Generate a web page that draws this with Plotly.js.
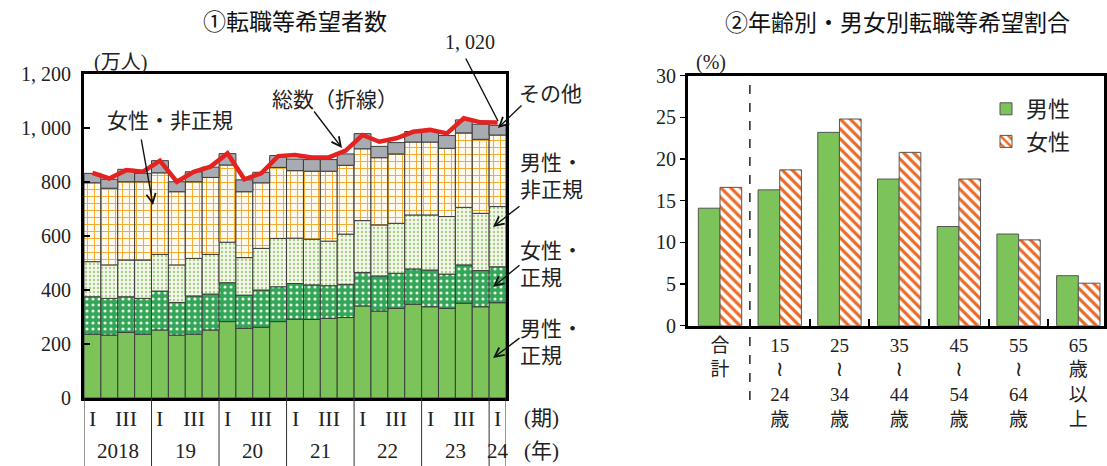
<!DOCTYPE html>
<html><head><meta charset="utf-8">
<script src="https://cdn.plot.ly/plotly-3.0.1.min.js"></script>
<style>html,body{margin:0;padding:0;background:#fff}#c{width:1107px;height:466px}</style>
</head><body><div id="c"></div>
<script>
// ---------- data: chart 1 (万人) ----------
const years = ['2018','19','20','21','22','23','24'];
const quartersPerYear = [4,4,4,4,4,4,1];
const quarterNames = ['I','','III',''];
const maleRegular      = [236,233,243,236,252,233,236,252,283,258,262,283,292,291,295,298,341,322,332,347,338,332,351,338,353];
const femaleRegular    = [139,136,132,133,144,121,142,133,144,123,138,129,132,128,121,123,124,130,130,131,136,127,142,134,133];
const maleNonRegular   = [130,124,136,142,136,139,139,147,150,139,154,179,168,169,165,186,192,189,185,200,204,213,213,212,223];
const femaleNonRegular = [292,284,290,290,302,271,284,285,286,244,243,263,250,252,259,255,266,249,257,270,270,253,276,274,265];
const others           = [35,33,46,31,45,37,37,38,42,44,39,44,43,43,43,42,56,42,42,39,40,47,48,56,36];
const totalLine        = [834,813,844,838,879,801,838,857,906,810,832,896,900,891,891,916,974,949,962,986,993,980,1036,1021,1020];
const lastLabel = '1, 020';
const yTickVals = [0,200,400,600,800,1000,1200];
const yTickText = ['0','200','400','600','800','1, 000','1, 200'];

// ---------- data: chart 2 (%) ----------
const WAVE = '<span style="font-family:DejaVu Sans;font-size:21px">≀</span>';
const ageLabels = ['合<br>計','15<br>'+WAVE+'<br>24<br>歳','25<br>'+WAVE+'<br>34<br>歳','35<br>'+WAVE+'<br>44<br>歳','45<br>'+WAVE+'<br>54<br>歳','55<br>'+WAVE+'<br>64<br>歳','65<br>歳<br>以<br>上'];
const maleRate   = [14.1,16.3,23.2,17.6,11.9,11.0,6.0];
const femaleRate = [16.6,18.7,24.8,20.8,17.6,10.3,5.1];
const rateTicks  = [0,5,10,15,20,25,30];

// ---------- helpers ----------
const W = 1107, H = 466;
const px = x => x / W, py = y => 1 - y / H;
const SERIF = 'Liberation Serif, DejaVu Serif, Noto Sans CJK JP, serif';
const JP = 'Noto Sans CJK JP, sans-serif';

const idx = maleRegular.map((_, i) => i);
const series = [
  {name:'男性・正規', y:maleRegular, marker:{color:'#7cc35a'}},
  {name:'女性・正規', y:femaleRegular, marker:{color:'#33a65a', pattern:{shape:'.', fgcolor:'#e4f3dc', bgcolor:'#33a65a', size:6, solidity:0.22}}},
  {name:'男性・非正規', y:maleNonRegular, marker:{color:'#f2f5e4', pattern:{shape:'.', fgcolor:'#a6cf88', bgcolor:'#f5f7ea', size:4, solidity:0.28}}},
  {name:'女性・非正規', y:femaleNonRegular, marker:{color:'#fff8ea', pattern:{shape:'+', fgcolor:'#f3ad35', bgcolor:'#fffaf0', size:7, solidity:0.28}}},
  {name:'その他', y:others, marker:{color:'#a8abb2'}}
];
const traces = [];
let base = idx.map(() => 0);
series.forEach(s => {
  traces.push({
    type:'bar', x:idx, y:s.y, base:base.slice(), width:1, name:s.name, showlegend:false,
    xaxis:'x', yaxis:'y',
    marker:Object.assign({}, s.marker, {line:{color:'#3c3c3c', width:1}}),
    hoverinfo:'skip'
  });
  base = base.map((b, i) => b + s.y[i]);
});
traces.push({type:'scatter', mode:'lines', x:idx, y:totalLine, xaxis:'x', yaxis:'y',
  line:{color:'#e42320', width:4.5}, showlegend:false, hoverinfo:'skip'});

const cats = ageLabels.map((_, i) => i);
const bw = 0.363;
traces.push({type:'bar', x:cats, y:maleRate, xaxis:'x2', yaxis:'y2', name:'男性',
  offset:-bw, width:bw, legendgroup:'m',
  marker:{color:'#7cc35a', line:{color:'#555', width:1}}});
traces.push({type:'bar', x:cats, y:femaleRate, xaxis:'x2', yaxis:'y2', name:'女性',
  offset:0, width:bw, legendgroup:'f',
  marker:{color:'#ffffff', line:{color:'#555', width:1},
    pattern:{shape:'\\', fgcolor:'#ea6a24', bgcolor:'#ffffff', size:7, solidity:0.45}}});

// ---------- annotations ----------
const ann = [];
const txt = (t, x, y, font, opts) => ann.push(Object.assign({text:t, x:px(x), y:py(y), xref:'paper', yref:'paper',
  showarrow:false, xanchor:'center', yanchor:'middle', font:font}, opts || {}));
txt('①転職等希望者数', 295, 20, {family:JP, size:23, color:'#111'});
txt('②年齢別・男女別転職等希望割合', 897, 21, {family:JP, size:23, color:'#111'});
txt('(万人)', 120, 62, {family:SERIF, size:20, color:'#222'});
txt('(%)', 711, 62, {family:SERIF, size:20, color:'#222'});

// quarter + year labels
let k = 0;
const yearBounds = [-0.5];
years.forEach((yr, j) => {
  const n = quartersPerYear[j];
  for (let q = 0; q < n; q++) {
    if (quarterNames[q]) ann.push({text:quarterNames[q], x:k + q, y:py(418), xref:'x', yref:'paper', showarrow:false,
      xanchor:'center', yanchor:'middle', font:{family:SERIF, size:22, color:'#222'}});
  }
  const mid = n === 1 ? k : k + (n - 1) / 2;
  ann.push({text:yr, x:mid, y:py(451), xref:'x', yref:'paper', showarrow:false,
    xanchor:'center', yanchor:'middle', font:{family:SERIF, size:21, color:'#222'}});
  k += n;
  yearBounds.push(k - 0.5);
});
txt('(期)', 541, 418, {family:SERIF, size:21, color:'#222'});
txt('(年)', 541, 451, {family:SERIF, size:21, color:'#222'});

// series labels
const LF = {family:JP, size:21, color:'#222'};
txt('女性・非正規', 170, 119, LF);
txt('総数（折線）', 335, 98, LF);
txt('その他', 550, 92, LF);
txt('男性・<br>非正規', 518, 175, LF, {xanchor:'left', align:'left'});
txt('女性・<br>正規', 518, 262, LF, {xanchor:'left', align:'left'});
txt('男性・<br>正規', 518, 340, LF, {xanchor:'left', align:'left'});
txt(lastLabel, 470, 42, {family:SERIF, size:20, color:'#222'});

const arrow = (hx, hy, tx, ty, head) => ann.push({text:'', x:px(hx), y:py(hy), xref:'paper', yref:'paper',
  showarrow:true, ax:tx - hx, ay:ty - hy, arrowhead:head === undefined ? 5 : head, arrowsize:1.3, arrowwidth:1.4,
  arrowcolor:'#111', standoff:0, startstandoff:0});
arrow(342, 148, 313, 110);
arrow(153, 205, 141, 138);
arrow(498, 128, 523, 104);
arrow(493, 227, 521, 205);
arrow(493, 287, 521, 264);
arrow(493, 358, 521, 337);
arrow(498, 121, 465, 57, 0);

// ---------- shapes ----------
const shapes = yearBounds.map(b => ({type:'line', xref:'x', yref:'paper', x0:b, x1:b, y0:0, y1:py(398), line:{color:'#333', width:1}}));
shapes.push({type:'line', xref:'x2', yref:'paper', x0:0.5, x1:0.5, y0:py(400), y1:py(75.7), line:{color:'#222', width:1.5, dash:'dash'}});

const layout = {
  width:W, height:H, margin:{l:0, r:0, t:0, b:0}, paper_bgcolor:'#fff', plot_bgcolor:'#fff',
  barmode:'overlay',
  xaxis:{domain:[px(84), px(506)], range:[-0.5, 24.5], anchor:'y', showline:true, mirror:true, linewidth:3, linecolor:'#000',
    showticklabels:false, ticks:'', showgrid:false, zeroline:false, fixedrange:true},
  yaxis:{domain:[py(398), py(74)], range:[0, 1200], anchor:'x', showline:true, mirror:true, linewidth:3, linecolor:'#000',
    tickmode:'array', tickvals:yTickVals, ticktext:yTickText, ticks:'inside', ticklen:6, tickwidth:1.5, tickcolor:'#000',
    showgrid:false, zeroline:false, tickfont:{family:SERIF, size:20, color:'#222'}, ticklabelstandoff:6},
  xaxis2:{domain:[px(688), px(1104)], range:[-0.536, 6.43], anchor:'y2', showline:true, mirror:true, linewidth:3, linecolor:'#000',
    tickmode:'array', tickvals:cats, ticktext:ageLabels, ticks:'', showgrid:false, zeroline:false,
    tickfont:{family:SERIF, size:19, color:'#222'},
    minor:{tickmode:'array', tickvals:[0.5,1.5,2.5,3.5,4.5,5.5], ticks:'inside', ticklen:7, tickwidth:2, tickcolor:'#000', showgrid:false}},
  yaxis2:{domain:[py(325.7), py(75.7)], range:[0, 30], anchor:'x2', showline:true, mirror:true, linewidth:3, linecolor:'#000',
    tickmode:'array', tickvals:rateTicks, ticks:'outside', ticklen:5, tickwidth:1.5, tickcolor:'#000',
    showgrid:false, zeroline:false, tickfont:{family:SERIF, size:20, color:'#222'}},
  showlegend:true,
  legend:{x:px(986), y:py(88), xanchor:'left', yanchor:'top', bgcolor:'rgba(255,255,255,0)', borderwidth:0,
    font:{family:JP, size:22, color:'#222'}, traceorder:'grouped', tracegroupgap:1, itemwidth:30},
  annotations:ann, shapes:shapes
};
Plotly.newPlot('c', traces, layout, {staticPlot:true, displayModeBar:false});
</script></body></html>
